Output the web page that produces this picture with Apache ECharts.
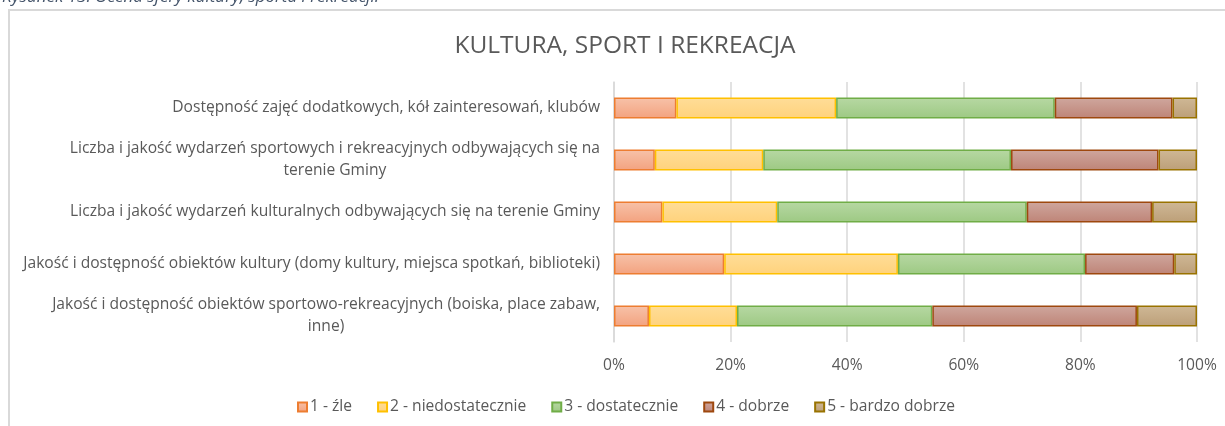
<!DOCTYPE html>
<html>
<head>
<meta charset="utf-8">
<script src="https://cdn.jsdelivr.net/npm/echarts@6/dist/echarts.min.js"></script>
<style>
  html, body { margin: 0; padding: 0; background: #fff; }
  #main { width: 1225px; height: 426px; }
</style>
</head>
<body>
<div id="main"></div>
<script>
  // kategorie (od góry)
  const categories = [
    'Dostępność zajęć dodatkowych, kół zainteresowań, klubów',
    'Liczba i jakość wydarzeń sportowych i rekreacyjnych odbywających się na\nterenie Gminy',
    'Liczba i jakość wydarzeń kulturalnych odbywających się na terenie Gminy',
    'Jakość i dostępność obiektów kultury (domy kultury, miejsca spotkań, biblioteki)',
    'Jakość i dostępność obiektów sportowo-rekreacyjnych (boiska, place zabaw,\ninne)'
  ]
  const seriesNames = ['1 - źle', '2 - niedostatecznie', '3 - dostatecznie', '4 - dobrze', '5 - bardzo dobrze']
  // udziały w %
  const zle = [10.7, 7.0, 8.3, 18.9, 6.0]
  const niedostatecznie = [27.4, 18.6, 19.7, 29.8, 15.1]
  const dostatecznie = [37.5, 42.5, 42.8, 32.1, 33.5]
  const dobrze = [20.2, 25.3, 21.5, 15.3, 35.1]
  const bardzoDobrze = [4.2, 6.6, 7.7, 3.9, 10.3]
  const axisTicks = [0, 20, 40, 60, 80, 100]

  const values = [zle, niedostatecznie, dostatecznie, dobrze, bardzoDobrze]
  const fills = [
    ['#F7C2A9', '#F3A27F'],
    ['#FFDD98', '#FFD27C'],
    ['#B7D8A3', '#9DC983'],
    ['#CFA79E', '#BE8477'],
    ['#CFB896', '#BC9F78']
  ]
  const borders = ['#ED7D31', '#FFC000', '#70AD47', '#9E480E', '#997300']
  const font = '"Open Sans", "Noto Sans", sans-serif'
  const fs = 15.6

  const myChart = echarts.init(document.getElementById('main'))

  const series = values.map((v, i) => ({
    name: seriesNames[i],
    type: 'bar',
    stack: 'total',
    barWidth: 21,
    data: v,
    itemStyle: {
      color: new echarts.graphic.LinearGradient(0, 0, 0, 1, [
        { offset: 0, color: fills[i][0] },
        { offset: 1, color: fills[i][1] }
      ]),
      borderColor: borders[i],
      borderWidth: 1.5
    }
  }))

  myChart.setOption({
    animation: false,
    backgroundColor: '#fff',
    title: {
      text: 'KULTURA, SPORT I REKREACJA',
      left: 620,
      textAlign: 'center',
      top: 29,
      textStyle: { fontFamily: font, fontWeight: 'normal', fontSize: 24.5, color: '#595959' }
    },
    graphic: [
      {
        type: 'text',
        left: 2,
        top: -11,
        style: {
          text: 'Rysunek 13. Ocena sfery kultury, sportu i rekreacji.',
          font: 'italic 17px ' + font,
          fill: '#44546A'
        }
      },
      {
        type: 'polyline',
        shape: { points: [[9, 430], [9, 10], [1230, 10]] },
        style: { stroke: '#D9D9D9', lineWidth: 2, fill: null }
      }
    ],
    legend: {
      bottom: 11,
      left: 297,
      padding: 0,
      itemWidth: 9,
      itemHeight: 9,
      itemGap: 25,
      icon: 'rect',
      textStyle: { fontFamily: font, fontSize: fs, color: '#595959', padding: [0, 0, 0, -2] },
      data: seriesNames
    },
    grid: { left: 614, right: 28, top: 82, height: 260 },
    xAxis: {
      type: 'value',
      min: axisTicks[0],
      max: axisTicks[axisTicks.length - 1],
      interval: 20,
      axisLabel: {
        formatter: '{value}%',
        fontFamily: font,
        fontSize: fs,
        color: '#595959',
        margin: 16
      },
      splitLine: { lineStyle: { color: '#D9D9D9', width: 1.5 } },
      axisLine: { show: false },
      axisTick: { show: false }
    },
    yAxis: {
      type: 'category',
      inverse: true,
      data: categories,
      axisLine: { show: true, lineStyle: { color: '#D9D9D9', width: 1.5 } },
      axisTick: { show: false },
      axisLabel: {
        fontFamily: font,
        fontSize: fs,
        color: '#595959',
        margin: 14,
        lineHeight: 22,
        formatter: function (v) {
          const parts = v.split('\n')
          if (parts.length < 2) return v
          return parts[0] + '\n{c|' + parts[1] + '}'
        },
        rich: {
          c: { align: 'center', fontFamily: font, fontSize: fs, color: '#595959', lineHeight: 22 }
        }
      }
    },
    series: series
  })
</script>
</body>
</html>
